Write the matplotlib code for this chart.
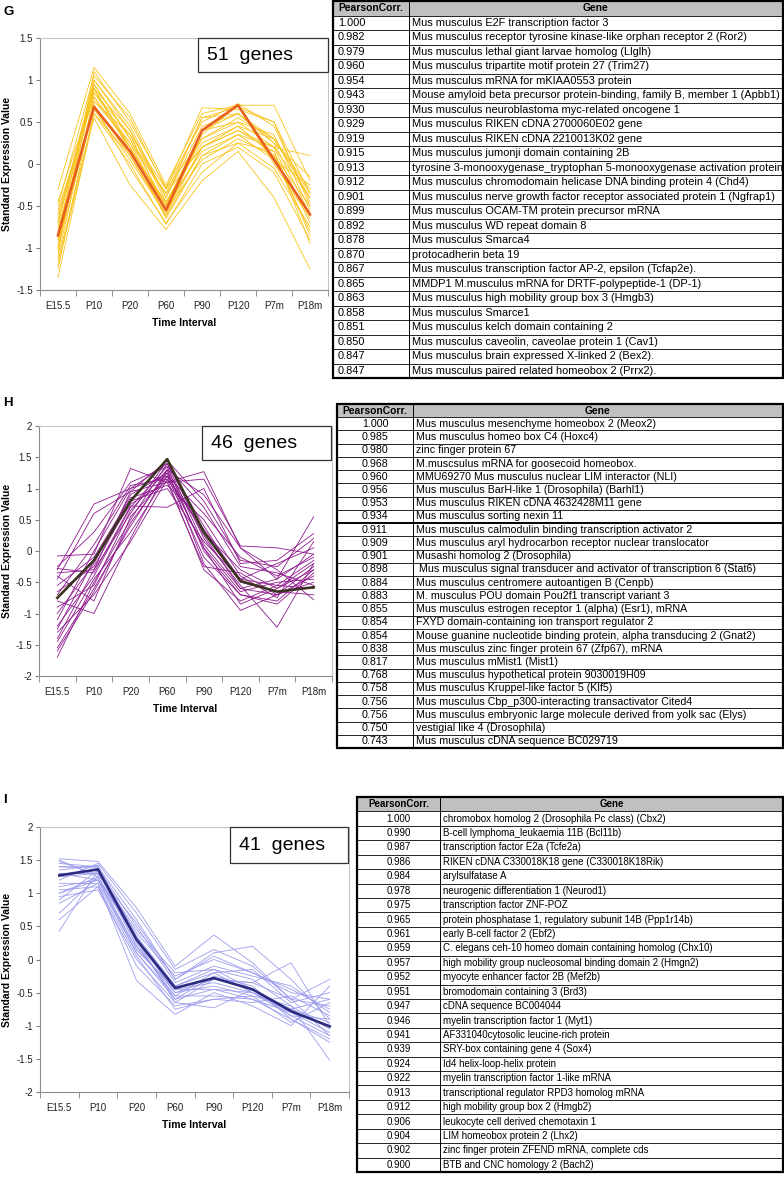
import numpy as np
import matplotlib
matplotlib.use("Agg")
import matplotlib.pyplot as plt
from matplotlib.patches import Rectangle

plt.rcParams["font.family"] = ["Liberation Sans", "DejaVu Sans"]

W, H = 784, 1180

time_points = ["E15.5", "P10", "P20", "P60", "P90", "P120", "P7m", "P18m"]

# ---------------------------------------------------------------------------
# Panel G - expression profiles
# ---------------------------------------------------------------------------
g_mean = [-0.85, 0.68, 0.15, -0.55, 0.40, 0.70, 0.05, -0.60]
g_genes = [
    [-1.35, 0.60, 0.10, -0.60, 0.20, 0.45, 0.10, -0.50],
    [-0.30, 1.15, 0.60, -0.25, 0.60, 0.70, 0.70, -0.20],
    [-0.50, 1.05, 0.55, -0.30, 0.67, 0.65, 0.50, -0.35],
    [-0.95, 0.90, 0.40, -0.45, 0.30, 0.55, 0.30, -0.40],
    [-1.10, 0.80, 0.20, -0.65, 0.10, 0.35, 0.20, -0.70],
    [-0.70, 1.00, 0.45, -0.40, 0.55, 0.60, 0.25, -0.15],
    [-1.00, 0.70, -0.05, -0.70, -0.10, 0.25, 0.15, -0.95],
    [-0.80, 0.95, 0.30, -0.50, 0.40, 0.50, 0.35, -0.55],
    [-1.20, 0.55, -0.25, -0.78, -0.20, 0.15, -0.40, -1.25],
    [-0.60, 0.85, 0.25, -0.35, 0.20, 0.40, 0.20, 0.10],
    [-0.90, 0.75, 0.35, -0.55, 0.05, 0.30, 0.10, -0.80],
    [-1.05, 1.10, 0.50, -0.28, 0.50, 0.72, 0.45, -0.45],
    [-0.75, 0.65, 0.05, -0.60, 0.35, 0.70, 0.00, -0.65],
    [-0.65, 0.90, 0.15, -0.45, 0.25, 0.45, 0.30, -0.30],
    [-1.15, 0.60, 0.00, -0.72, 0.00, 0.20, -0.10, -0.90],
    [-0.85, 1.00, 0.40, -0.40, 0.45, 0.60, 0.25, -0.60],
    [-0.55, 0.80, 0.20, -0.50, 0.15, 0.35, 0.05, -0.25],
    [-1.00, 0.95, 0.30, -0.35, 0.55, 0.68, 0.50, -0.50],
    [-0.90, 0.70, 0.10, -0.62, 0.10, 0.25, -0.05, -0.75],
    [-0.45, 0.85, 0.35, -0.30, 0.30, 0.50, 0.20, -0.40],
    [-1.25, 0.75, 0.25, -0.55, 0.20, 0.40, 0.15, -0.85],
    [-0.70, 0.90, 0.20, -0.48, 0.40, 0.60, 0.30, -0.35],
]

# ---------------------------------------------------------------------------
# Panel H
# ---------------------------------------------------------------------------
h_mean = [-0.75, -0.15, 0.80, 1.47, 0.30, -0.48, -0.65, -0.58]
h_genes = [
    [-1.70, -0.50, 0.50, 1.40, 0.10, -0.60, -0.70, -0.40],
    [-0.08, -0.05, 1.32, 1.10, 1.27, 0.05, -0.45, 0.55],
    [-0.30, 0.75, 1.00, 1.20, 0.30, -0.30, -0.60, -0.20],
    [-0.80, -1.00, 0.20, 1.30, 0.90, 0.05, -0.30, -0.78],
    [-1.20, -0.40, 0.70, 1.35, 0.00, -0.70, -0.80, -0.30],
    [-0.45, 0.60, 0.95, 1.10, 1.15, 0.08, 0.05, -0.05],
    [-1.40, -0.30, 0.60, 1.45, 0.20, -0.55, -1.22, -0.20],
    [-0.28, -0.35, 0.72, 0.70, 1.00, -0.20, -0.15, 0.28],
    [-1.00, -0.20, 0.90, 1.25, 0.05, -0.65, -0.50, -0.45],
    [-1.55, -0.60, 0.40, 1.30, -0.20, -0.95, -0.70, -0.25],
    [-0.55, -0.10, 0.85, 1.05, 0.50, -0.40, -0.75, 0.15],
    [-1.30, -0.70, 0.15, 1.15, -0.30, -0.80, -0.55, -0.60],
    [-0.40, -0.80, 0.55, 1.20, 0.60, -0.10, -0.40, -0.10],
    [-1.10, 0.00, 1.00, 1.40, 0.40, -0.50, -0.65, -0.70],
    [-0.65, -0.25, 0.80, 1.00, 0.15, -0.45, -0.20, 0.05],
    [-1.45, -0.45, 0.30, 1.20, -0.10, -0.70, -0.85, -0.35],
    [-0.25, 0.30, 1.10, 1.35, 0.70, -0.25, -0.35, -0.55],
    [-0.90, -0.55, 0.65, 1.30, 0.25, -0.60, -0.45, -0.05],
    [-1.25, -0.15, 0.75, 1.10, -0.25, -0.35, -0.70, -0.50],
    [-0.35, -0.30, 0.95, 1.45, 0.80, -0.15, -0.25, 0.20],
    [-1.60, -0.65, 0.45, 1.25, 0.05, -0.85, -0.60, -0.30],
    [-0.70, 0.10, 1.05, 1.15, 0.35, -0.45, -0.55, -0.15],
]

# ---------------------------------------------------------------------------
# Panel I
# ---------------------------------------------------------------------------
i_mean = [1.27, 1.36, 0.30, -0.43, -0.28, -0.45, -0.78, -1.01]
i_genes = [
    [0.43, 1.35, 0.20, -0.55, -0.20, -0.50, -0.80, -1.10],
    [1.52, 1.48, 0.78, -0.10, 0.37, -0.05, -0.60, -0.30],
    [1.45, 1.40, 0.60, -0.30, 0.10, 0.20, -0.30, -0.90],
    [1.00, 1.20, 0.10, -0.60, -0.45, -0.60, -0.90, -1.20],
    [0.60, 1.10, -0.10, -0.70, -0.60, -0.55, -0.70, -1.52],
    [1.30, 1.30, 0.40, -0.25, 0.00, -0.20, -0.50, -0.60],
    [1.50, 1.25, 0.30, -0.50, -0.30, -0.35, -0.05, -1.00],
    [0.85, 1.15, -0.32, -0.83, -0.50, -0.70, -1.00, -0.40],
    [1.20, 1.45, 0.70, -0.15, 0.15, -0.10, -0.60, -0.70],
    [0.95, 1.05, 0.00, -0.65, -0.73, -0.45, -0.85, -1.15],
    [1.40, 1.38, 0.50, -0.35, -0.10, -0.25, -0.40, -0.80],
    [0.70, 1.25, 0.15, -0.45, -0.35, -0.50, -0.75, -0.95],
    [1.10, 1.20, 0.35, -0.40, -0.20, -0.15, -0.65, -0.50],
    [1.35, 1.42, 0.25, -0.60, -0.25, -0.40, -0.90, -1.25],
    [1.05, 1.10, 0.05, -0.75, -0.60, -0.65, -0.55, -0.85],
    [1.25, 1.30, 0.45, -0.20, -0.15, -0.30, -0.70, -1.05],
    [0.90, 1.35, 0.20, -0.50, -0.40, -0.55, -0.95, -0.65],
    [1.48, 1.28, 0.55, -0.30, 0.05, -0.20, -0.45, -0.75],
    [1.15, 1.15, 0.10, -0.55, -0.55, -0.60, -0.80, -1.00],
    [1.40, 1.40, 0.35, -0.40, -0.15, -0.45, -0.75, -0.60],
    [1.00, 1.25, 0.30, -0.65, -0.30, -0.35, -0.60, -1.15],
    [1.30, 1.20, 0.15, -0.45, -0.45, -0.50, -0.85, -0.90],
]

# ---------------------------------------------------------------------------
# Correlation tables
# ---------------------------------------------------------------------------
g_corr = [1.000, 0.982, 0.979, 0.960, 0.954, 0.943, 0.930, 0.929, 0.919, 0.915,
          0.913, 0.912, 0.901, 0.899, 0.892, 0.878, 0.870, 0.867, 0.865, 0.863,
          0.858, 0.851, 0.850, 0.847, 0.847]
g_names = [
    "Mus musculus E2F transcription factor 3",
    "Mus musculus receptor tyrosine kinase-like orphan receptor 2 (Ror2)",
    "Mus musculus lethal giant larvae homolog (Llglh)",
    "Mus musculus tripartite motif protein 27 (Trim27)",
    "Mus musculus mRNA for mKIAA0553 protein",
    "Mouse amyloid beta precursor protein-binding, family B, member 1 (Apbb1)",
    "Mus musculus neuroblastoma myc-related oncogene 1",
    "Mus musculus RIKEN cDNA 2700060E02 gene",
    "Mus musculus RIKEN cDNA 2210013K02 gene",
    "Mus musculus jumonji domain containing 2B",
    "tyrosine 3-monooxygenase_tryptophan 5-monooxygenase activation protein",
    "Mus musculus chromodomain helicase DNA binding protein 4 (Chd4)",
    "Mus musculus nerve growth factor receptor associated protein 1 (Ngfrap1)",
    "Mus musculus OCAM-TM protein precursor mRNA",
    "Mus musculus WD repeat domain 8",
    "Mus musculus Smarca4",
    "protocadherin beta 19",
    "Mus musculus transcription factor AP-2, epsilon (Tcfap2e).",
    "MMDP1 M.musculus mRNA for DRTF-polypeptide-1 (DP-1)",
    "Mus musculus high mobility group box 3 (Hmgb3)",
    "Mus musculus Smarce1",
    "Mus musculus kelch domain containing 2",
    "Mus musculus caveolin, caveolae protein 1 (Cav1)",
    "Mus musculus brain expressed X-linked 2 (Bex2).",
    "Mus musculus paired related homeobox 2 (Prrx2).",
]

h_corr = [1.000, 0.985, 0.980, 0.968, 0.960, 0.956, 0.953, 0.934, 0.911, 0.909,
          0.901, 0.898, 0.884, 0.883, 0.855, 0.854, 0.854, 0.838, 0.817, 0.768,
          0.758, 0.756, 0.756, 0.750, 0.743]
h_names = [
    "Mus musculus mesenchyme homeobox 2 (Meox2)",
    "Mus musculus homeo box C4 (Hoxc4)",
    "zinc finger protein 67",
    "M.muscsulus mRNA for goosecoid homeobox.",
    "MMU69270 Mus musculus nuclear LIM interactor (NLI)",
    "Mus musculus BarH-like 1 (Drosophila) (Barhl1)",
    "Mus musculus RIKEN cDNA 4632428M11 gene",
    "Mus musculus sorting nexin 11",
    "Mus musculus calmodulin binding transcription activator 2",
    "Mus musculus aryl hydrocarbon receptor nuclear translocator",
    "Musashi homolog 2 (Drosophila)",
    " Mus musculus signal transducer and activator of transcription 6 (Stat6)",
    "Mus musculus centromere autoantigen B (Cenpb)",
    "M. musculus POU domain Pou2f1 transcript variant 3",
    "Mus musculus estrogen receptor 1 (alpha) (Esr1), mRNA",
    "FXYD domain-containing ion transport regulator 2",
    "Mouse guanine nucleotide binding protein, alpha transducing 2 (Gnat2)",
    "Mus musculus zinc finger protein 67 (Zfp67), mRNA",
    "Mus musculus mMist1 (Mist1)",
    "Mus musculus hypothetical protein 9030019H09",
    "Mus musculus Kruppel-like factor 5 (Klf5)",
    "Mus musculus Cbp_p300-interacting transactivator Cited4",
    "Mus musculus embryonic large molecule derived from yolk sac (Elys)",
    "vestigial like 4 (Drosophila)",
    "Mus musculus cDNA sequence BC029719",
]

i_corr = [1.000, 0.990, 0.987, 0.986, 0.984, 0.978, 0.975, 0.965, 0.961, 0.959,
          0.957, 0.952, 0.951, 0.947, 0.946, 0.941, 0.939, 0.924, 0.922, 0.913,
          0.912, 0.906, 0.904, 0.902, 0.900]
i_names = [
    "chromobox homolog 2 (Drosophila Pc class) (Cbx2)",
    "B-cell lymphoma_leukaemia 11B (Bcl11b)",
    "transcription factor E2a (Tcfe2a)",
    "RIKEN cDNA C330018K18 gene (C330018K18Rik)",
    "arylsulfatase A",
    "neurogenic differentiation 1 (Neurod1)",
    "transcription factor ZNF-POZ",
    "protein phosphatase 1, regulatory subunit 14B (Ppp1r14b)",
    "early B-cell factor 2 (Ebf2)",
    "C. elegans ceh-10 homeo domain containing homolog (Chx10)",
    "high mobility group nucleosomal binding domain 2 (Hmgn2)",
    "myocyte enhancer factor 2B (Mef2b)",
    "bromodomain containing 3 (Brd3)",
    "cDNA sequence BC004044",
    "myelin transcription factor 1 (Myt1)",
    "AF331040cytosolic leucine-rich protein",
    "SRY-box containing gene 4 (Sox4)",
    "Id4 helix-loop-helix protein",
    "myelin transcription factor 1-like mRNA",
    "transcriptional regulator RPD3 homolog mRNA",
    "high mobility group box 2 (Hmgb2)",
    "leukocyte cell derived chemotaxin 1",
    "LIM homeobox protein 2 (Lhx2)",
    "zinc finger protein ZFEND mRNA, complete cds",
    "BTB and CNC homology 2 (Bach2)",
]


def px_axes(fig, x0, y0, x1, y1):
    # pixel box (top-left origin) -> figure axes
    return fig.add_axes([x0 / W, 1 - y1 / H, (x1 - x0) / W, (y1 - y0) / H])


def draw_profiles(fig, box, ylim, genes, mean, thin_color, mean_color):
    ax = px_axes(fig, *box)
    x = np.arange(len(time_points)) + 0.5
    for g in genes:
        ax.plot(x, g, color=thin_color, lw=0.6, zorder=2)
    ax.plot(x, mean, color=mean_color, lw=1.9, zorder=3)
    ax.set_xlim(0, len(time_points))
    ax.set_ylim(*ylim)
    ax.set_xticks(x)
    ax.set_xticklabels(time_points, fontsize=7, color="#222222")
    ax.set_xticks(np.arange(len(time_points) + 1), minor=True)
    ax.tick_params(axis="x", which="major", length=0, pad=8)
    ax.tick_params(axis="x", which="minor", length=4, direction="out", color="#808080")
    yt = np.arange(ylim[0], ylim[1] + 0.01, 0.5)
    ax.set_yticks(yt)
    ax.set_yticklabels([f"{v:g}" for v in yt], fontsize=7, color="#222222")
    ax.tick_params(axis="y", length=3, direction="out", color="#808080", pad=2)
    for side in ["left", "bottom"]:
        ax.spines[side].set_color("#8c8c8c")
    for side in ["top", "right"]:
        ax.spines[side].set_color("#c4c4c4")
    for sp in ax.spines.values():
        sp.set_linewidth(0.8)
    return ax


def label_chart(ov, box, n_text, gbox, letter, letter_xy):
    x0, y0, x1, y1 = box
    ov.text((x0 + x1) / 2, y1 + 33, "Time Interval", fontsize=7.5, fontweight="bold",
            ha="center", va="center")
    ov.text(7, (y0 + y1) / 2, "Standard Expression Value", fontsize=7.5, fontweight="bold",
            rotation=90, ha="center", va="center")
    bx0, by0, bx1, by1 = gbox
    ov.add_patch(Rectangle((bx0, by0), bx1 - bx0, by1 - by0, fc="white", ec="#333333", lw=0.9))
    ov.text(bx0 + 9, (by0 + by1) / 2 + 1, n_text, fontsize=14, ha="left", va="center")
    ov.text(letter_xy[0], letter_xy[1], letter, fontsize=9.5, fontweight="bold",
            ha="center", va="center")


def draw_table(ov, x0, xs, x1, y0, y1, corr, names, fs, center_vals, thick_rows=()):
    n = len(corr) + 1
    h = (y1 - y0) / n
    ov.add_patch(Rectangle((x0, y0), x1 - x0, h, fc="#c0c0c0", ec="none"))
    for i in range(1, n):
        lw = 1.4 if i in thick_rows else 0.6
        ov.plot([x0, x1], [y0 + i * h] * 2, color="black", lw=lw)
    ov.plot([xs, xs], [y0, y1], color="black", lw=0.7)
    ov.add_patch(Rectangle((x0, y0), x1 - x0, y1 - y0, fc="none", ec="black", lw=1.6))
    ov.text((x0 + xs) / 2, y0 + h / 2, "PearsonCorr.", fontsize=min(fs, 7.4), fontweight="bold",
            ha="center", va="center")
    ov.text((xs + x1) / 2, y0 + h / 2, "Gene", fontsize=min(fs, 7.4), fontweight="bold",
            ha="center", va="center")
    for k, (c, nm) in enumerate(zip(corr, names)):
        yc = y0 + (k + 1.5) * h
        if center_vals:
            ov.text((x0 + xs) / 2, yc, f"{c:.3f}", fontsize=fs, ha="center", va="center")
        else:
            ov.text(x0 + 5, yc, f"{c:.3f}", fontsize=fs, ha="left", va="center")
        t = ov.text(xs + 3, yc, nm, fontsize=fs, ha="left", va="center")
        t.set_clip_path(Rectangle((xs, y0), x1 - xs - 1, y1 - y0, transform=ov.transData))


fig = plt.figure(figsize=(W / 100, H / 100), dpi=100)
fig.patch.set_facecolor("white")

g_box = (40, 38, 328, 290)
h_box = (39, 426, 332, 676)
i_box = (40, 827, 349, 1092)

draw_profiles(fig, g_box, (-1.5, 1.5), g_genes, g_mean, "#f9c31c", "#e8601c")
draw_profiles(fig, h_box, (-2, 2), h_genes, h_mean, "#8e1a8e", "#3a3320")
draw_profiles(fig, i_box, (-2, 2), i_genes, i_mean, "#9c9cee", "#2b2b80")

# overlay in pixel coordinates for tables, boxes and labels
ov = fig.add_axes([0, 0, 1, 1])
ov.set_xlim(0, W)
ov.set_ylim(H, 0)
ov.axis("off")
ov.set_zorder(10)

label_chart(ov, g_box, "51  genes", (198, 38, 328, 72), "G", (9, 12))
label_chart(ov, h_box, "46  genes", (202, 426, 331, 460), "H", (8, 403))
label_chart(ov, i_box, "41  genes", (230, 827, 348, 863), "I", (5, 800))

draw_table(ov, 333, 409, 783, 1, 378, g_corr, g_names, 7.9, False)
draw_table(ov, 337, 413, 783, 404, 748, h_corr, h_names, 7.7, True, thick_rows=(9,))
draw_table(ov, 357, 440, 783, 797, 1172, i_corr, i_names, 7.0, True)

fig.savefig("out.png", dpi=100)
